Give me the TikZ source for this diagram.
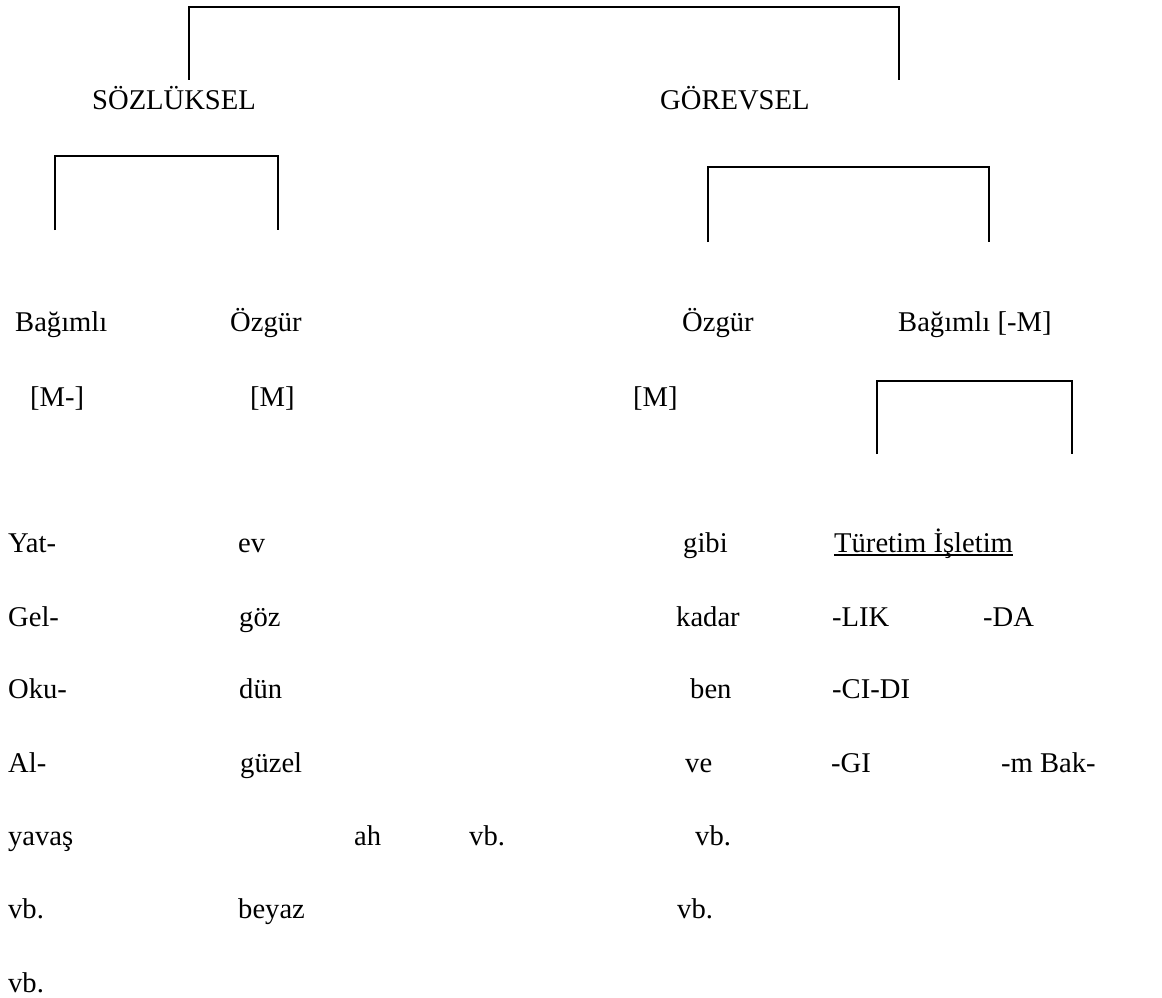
\documentclass[tikz,border=0pt]{standalone}
\usepackage{fontspec}
\setmainfont{Liberation Serif}
\begin{document}
\begin{tikzpicture}[x=1pt,y=-1pt,
  lbl/.style={anchor=base west,inner sep=0pt,font=\fontsize{28.6}{34}\selectfont},
  brk/.style={line width=2pt,line join=miter}]
\useasboundingbox (0,0) rectangle (1162,998);
% headings
\node[lbl] (soz) at (92,110) {SÖZLÜKSEL};
\node[lbl] (gor) at (660,110) {GÖREVSEL};
\node[lbl] (bag1) at (15,331) {Bağımlı};
\node[lbl] (ozg1) at (230,331) {Özgür};
\node[lbl] (ozg2) at (682,331) {Özgür};
\node[lbl] (bag2) at (898,331) {Bağımlı [-M]};
\node[lbl] (m1) at (30,406) {[M-]};
\node[lbl] (m2) at (250,406) {[M]};
\node[lbl] (m3) at (633,406) {[M]};
% brackets
\coordinate (t1) at (189,80); \coordinate (t2) at (899,80);
\draw[brk] (t1) |- (544,7) -| (t2);
\coordinate (a1) at (55,230); \coordinate (a2) at (278,230);
\draw[brk] (a1) |- (166,156) -| (a2);
\coordinate (b1) at (708,242); \coordinate (b2) at (989,242);
\draw[brk] (b1) |- (848,167) -| (b2);
\coordinate (c1) at (877,454); \coordinate (c2) at (1072,454);
\draw[brk] (c1) |- (974,381) -| (c2);
% column 1
\node[lbl] (yat) at (8,552) {Yat-};
\node[lbl] (gel) at (8,626) {Gel-};
\node[lbl] (oku) at (8,698) {Oku-};
\node[lbl] (al) at (8,772) {Al-};
\node[lbl] (yav) at (8,845) {yavaş};
\node[lbl] (vb1) at (8,918) {vb.};
\node[lbl] (vb2) at (8,992) {vb.};
% column 2
\node[lbl] (ev) at (238,552) {ev};
\node[lbl] (goz) at (239,626) {göz};
\node[lbl] (dun) at (239,698) {dün};
\node[lbl] (guz) at (240,772) {güzel};
\node[lbl] (bey) at (238,918) {beyaz};
\node[lbl] (ah) at (354,845) {ah};
\node[lbl] (vb3) at (469,845) {vb.};
% column 3
\node[lbl] (gibi) at (683,552) {gibi};
\node[lbl] (kad) at (676,626) {kadar};
\node[lbl] (ben) at (690,698) {ben};
\node[lbl] (ve) at (685,772) {ve};
\node[lbl] (vb4) at (695,845) {vb.};
\node[lbl] (vb5) at (677,918) {vb.};
% column 4
\node[lbl] (tur) at (834,552) {Türetim İşletim};
\draw[line width=1.5pt] ([yshift=-3pt]tur.base west) -- ([yshift=-3pt]tur.base east);
\node[lbl] (lik) at (832,626) {-LIK};
\node[lbl] (da) at (983,626) {-DA};
\node[lbl] (cidi) at (832,698) {-CI-DI};
\node[lbl] (gi) at (831,772) {-GI};
\node[lbl] (bak) at (1001,772) {-m Bak-};
\end{tikzpicture}
\end{document}
